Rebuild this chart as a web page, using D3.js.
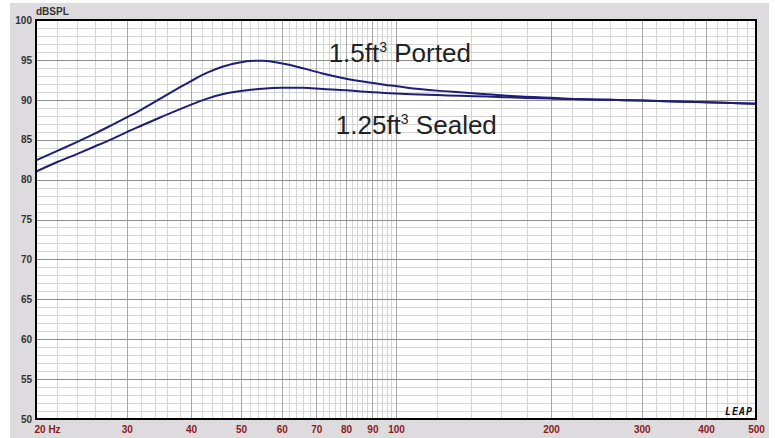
<!DOCTYPE html>
<html>
<head>
<meta charset="utf-8">
<script src="https://cdn.jsdelivr.net/npm/d3@7"></script>
<style>
  html, body { margin: 0; padding: 0; background: #ffffff; }
  svg { display: block; }
</style>
</head>
<body>
<script>
// ---- Data ----
const freqsPorted = [20, 22, 24, 26, 28, 30, 32, 35, 38, 40, 43, 46, 50, 52, 55, 58, 62, 66, 72, 80, 87, 95, 107, 120, 133, 150, 175, 200, 230, 260, 300, 350, 400, 450, 500];
const splPorted   = [82.4, 83.6, 84.7, 85.75, 86.8, 87.8, 88.75, 90.2, 91.55, 92.35, 93.4, 94.15, 94.7, 94.85, 94.9, 94.75, 94.4, 93.95, 93.3, 92.65, 92.25, 91.9, 91.45, 91.15, 90.94, 90.7, 90.4, 90.25, 90.06, 90.0, 89.9, 89.8, 89.7, 89.6, 89.5];
const freqsSealed = [20, 22, 24, 26, 28, 30, 32, 35, 38, 40, 43, 46, 50, 55, 60, 66, 72, 80, 87, 95, 107, 120, 133, 150, 175, 200, 230, 260, 300, 350, 400, 450, 500];
const splSealed   = [81.0, 82.2, 83.2, 84.15, 85.05, 85.95, 86.75, 87.85, 88.8, 89.4, 90.15, 90.7, 91.1, 91.4, 91.5, 91.5, 91.35, 91.2, 91.0, 90.85, 90.7, 90.6, 90.5, 90.4, 90.26, 90.15, 90.06, 90.0, 89.9, 89.8, 89.7, 89.6, 89.5];
const xTickValues = [20, 30, 40, 50, 60, 70, 80, 90, 100, 200, 300, 400, 500];
const xTickLabels = ["20 Hz", "30", "40", "50", "60", "70", "80", "90", "100", "200", "300", "400", "500"];
const yTickValues = [50, 55, 60, 65, 70, 75, 80, 85, 90, 95, 100];
const yAxisTitle = "dBSPL";
const seriesLabels = [
  { base: "1.5ft", sup: "3", rest: " Ported", f: 74, db: 94.77 },
  { base: "1.25ft", sup: "3", rest: " Sealed", f: 76.4, db: 85.7 }
];

// ---- Layout ----
const W = 775, H = 438;
const L = 36, R = 756, T = 20, B = 419;

const svg = d3.select("body").append("svg").attr("width", W).attr("height", H);

svg.append("rect").attr("x", 10).attr("y", 3).attr("width", 759).attr("height", H - 3).attr("fill", "#dddbdd");
svg.append("rect").attr("x", L).attr("y", T).attr("width", R - L).attr("height", B - T).attr("fill", "#ffffff");

const x = d3.scaleLog().domain([20, 500]).range([L, R]);
const y = d3.scaleLinear().domain([50, 100]).range([B, T]);

// Minor grid
const minorX = d3.range(22, 100, 2).concat(d3.range(120, 500, 20)).filter(v => !xTickValues.includes(v));
const minorY = d3.range(50, 101, 1).filter(v => v % 5 !== 0);

const grid = svg.append("g").attr("shape-rendering", "crispEdges");
grid.selectAll("line.mx").data(minorX).join("line")
  .attr("x1", d => Math.round(x(d)) + 0.5).attr("x2", d => Math.round(x(d)) + 0.5)
  .attr("y1", T).attr("y2", B).attr("stroke", "#d4d4d4").attr("stroke-width", 1);
grid.selectAll("line.my").data(minorY).join("line")
  .attr("y1", d => Math.round(y(d)) + 0.5).attr("y2", d => Math.round(y(d)) + 0.5)
  .attr("x1", L).attr("x2", R).attr("stroke", "#d4d4d4").attr("stroke-width", 1);
// Major grid
grid.selectAll("line.Mx").data(xTickValues.slice(1, -1)).join("line")
  .attr("x1", d => Math.round(x(d)) + 0.5).attr("x2", d => Math.round(x(d)) + 0.5)
  .attr("y1", T).attr("y2", B).attr("stroke", "#a8a8a8").attr("stroke-width", 1);
grid.selectAll("line.My").data(yTickValues.slice(1, -1)).join("line")
  .attr("y1", d => Math.round(y(d)) + 0.5).attr("y2", d => Math.round(y(d)) + 0.5)
  .attr("x1", L).attr("x2", R).attr("stroke", "#8f8f8f").attr("stroke-width", 1);

// Curves
const line = d3.line().x(d => x(d[0])).y(d => y(d[1])).curve(d3.curveMonotoneX);
svg.append("path").datum(d3.zip(freqsPorted, splPorted))
  .attr("d", line).attr("fill", "none").attr("stroke", "#1e1e78").attr("stroke-width", 2);
svg.append("path").datum(d3.zip(freqsSealed, splSealed))
  .attr("d", line).attr("fill", "none").attr("stroke", "#1e1e78").attr("stroke-width", 2);

// Frame
svg.append("rect").attr("x", L).attr("y", T).attr("width", R - L).attr("height", B - T)
  .attr("fill", "none").attr("stroke", "#000").attr("stroke-width", 2);

// Axes (tick labels via d3 axes)
const xAxis = d3.axisBottom(x).tickValues(xTickValues)
  .tickFormat((d, i) => xTickLabels[i]).tickSize(0).tickPadding(0);
const gx = svg.append("g").attr("transform", `translate(0,${B})`).call(xAxis);
gx.select(".domain").remove();
gx.selectAll("text")
  .attr("y", 14).attr("dy", null)
  .attr("fill", "#8b1a1a").style("font", "bold 10px 'Liberation Sans', Arial, sans-serif")
  .attr("text-anchor", (d, i) => i === 0 ? "start" : "middle")
  .attr("x", (d, i) => i === 0 ? -2 : 0);

const yAxis = d3.axisLeft(y).tickValues(yTickValues).tickSize(0).tickPadding(4);
const gy = svg.append("g").attr("transform", `translate(${L},0)`).call(yAxis);
gy.select(".domain").remove();
gy.selectAll("text").attr("fill", "#333").style("font", "bold 10px 'Liberation Sans', Arial, sans-serif");

svg.append("text").attr("x", L).attr("y", 15).text(yAxisTitle)
  .attr("fill", "#333").style("font", "bold 10px 'Liberation Sans', Arial, sans-serif");

// Series labels
seriesLabels.forEach(s => {
  const t = svg.append("text").attr("x", x(s.f)).attr("y", y(s.db))
    .attr("text-anchor", "start").attr("fill", "#222")
    .style("font", "26px 'Liberation Sans', Arial, sans-serif");
  t.append("tspan").text(s.base);
  t.append("tspan").text(s.sup).attr("dy", -10).style("font-size", "14px");
  t.append("tspan").text(s.rest).attr("dy", 10);
});
// LEAP logo
svg.append("text").attr("x", R - 3).attr("y", B - 4).attr("text-anchor", "end")
  .attr("fill", "#111").style("font", "bold italic 10px 'DejaVu Sans Mono', monospace")
  .attr("letter-spacing", "1").text("LEAP");
</script>
</body>
</html>
